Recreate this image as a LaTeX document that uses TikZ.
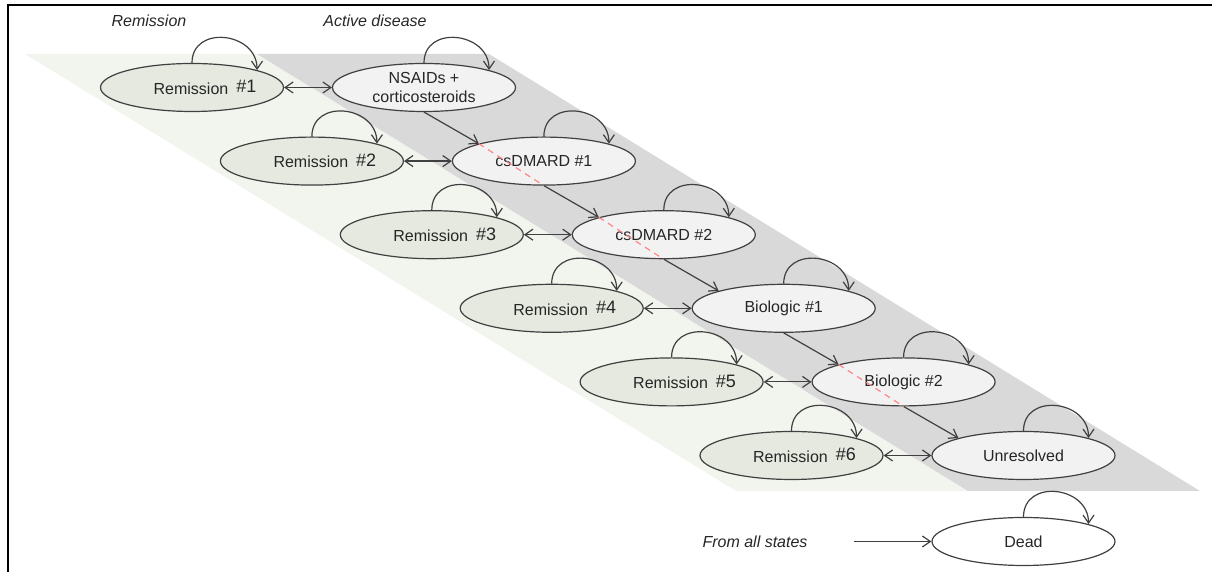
\documentclass[tikz,border=0pt]{standalone}
\usepackage{fontspec}
\setmainfont{Liberation Sans}
\usepackage{xcolor}
\usepackage{tikz}
\usetikzlibrary{shapes,arrows.meta,positioning,calc}

\definecolor{bandgreen}{HTML}{F2F5EE}
\definecolor{bandgrey}{HTML}{D9D9D9}
\definecolor{remfill}{HTML}{E6E9DF}
\definecolor{actfill}{HTML}{F2F2F2}
\definecolor{edgegrey}{HTML}{404040}
\definecolor{textgrey}{HTML}{262626}
\definecolor{dashred}{HTML}{FF8585}

\tikzset{
  statenode/.style={ellipse, draw=edgegrey, line width=0.6pt, minimum width=91.5pt,
    minimum height=24pt, inner sep=0pt, text=textgrey, align=center},
  remstate/.style={statenode, fill=remfill},
  actstate/.style={statenode, fill=actfill},
  link/.style={draw=edgegrey, line width=0.6pt},
  headline/.style={font=\fontsize{8}{9.2}\selectfont\itshape, text=textgrey},
  reddash/.style={draw=dashred, line width=0.6pt, dash pattern=on 3pt off 2.5pt}
}

\begin{document}
\begin{tikzpicture}[x=0.5pt, y=0.5pt, >={Straight Barb[length=4pt,width=5.5pt]},
    font=\fontsize{8}{9.2}\selectfont]
    \useasboundingbox (0,0) rectangle (1212,572);

    % Frame
    \draw[line width=0.9pt] (8,0) -- (8,567) -- (1212,567);

    % Background bands
    \fill[bandgreen] (25,518) -- (257,518) -- (968,81) -- (736,81) -- cycle;
    \fill[bandgrey] (257,518) -- (489,518) -- (1200,81) -- (968,81) -- cycle;

    % Column headers
    \node[headline] (remhead) at (149,551) {Remission};
    \node[headline] (acthead) at (375,551) {Active disease};

    % States, one row per treatment line
    \foreach \i/\lbl in {1/{NSAIDs +\\corticosteroids}, 2/{csDMARD \#1}, 3/{csDMARD \#2},
                         4/{Biologic \#1}, 5/{Biologic \#2}, 6/Unresolved} {
        \node[actstate] (act\i) at ({424+(\i-1)*119.9}, {484.5-(\i-1)*73.6}) {\lbl};
        \node[remstate] (rem\i) at ({192+(\i-1)*119.9}, {484.5-(\i-1)*73.6})
            {\hspace*{13pt}Remission\hspace{4pt}\raisebox{0.7pt}{\fontsize{9}{9}\selectfont\#\i}};
    }
    \node[statenode, fill=white] (dead) at (1023.5,30.5) {Dead};

    % Self loops
    \foreach \n in {rem1,rem2,rem3,rem4,rem5,rem6,act1,act2,act3,act4,act5,act6,dead}
        \draw[link,->] (\n.north) to[out=90,in=90,looseness=1.5] (\n.15);

    % Remission <-> active disease
    \foreach \i in {1,...,6}
        \draw[link,<->] (rem\i.east) -- (act\i.west);

    % Escalation to next line
    \foreach \i [evaluate=\i as \j using int(\i-1)] in {2,...,6}
        \draw[link,->] (act\j.south) -- (act\i.165);

    % Dashed red marks
    \foreach \i in {2,3,5}
        \draw[reddash] (act\i.165) -- (act\i.south);

    % Death from all states
    \node[headline] (fromall) at (755,30.5) {From all states};
    \coordinate[right=19.5pt of fromall] (fromstart);
    \draw[link,->] (fromstart) -- (dead.west);
\end{tikzpicture}
\end{document}
